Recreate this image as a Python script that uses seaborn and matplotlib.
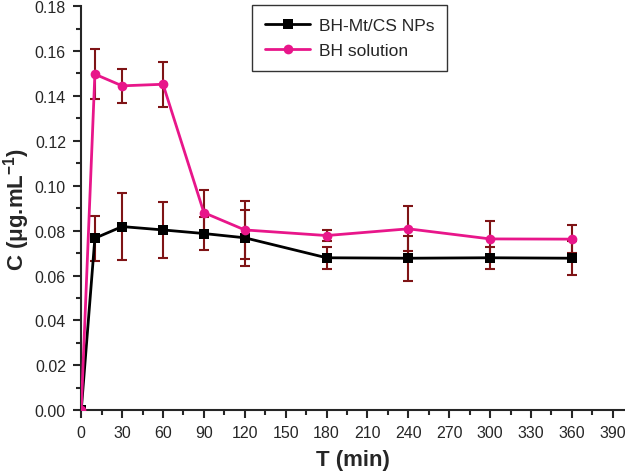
import numpy as np
import pandas as pd
import seaborn as sns
import matplotlib.pyplot as plt
from matplotlib.ticker import MultipleLocator

# values
time_min = [0, 10, 30, 60, 90, 120, 180, 240, 300, 360]
np_conc = [0.0, 0.0766, 0.0818, 0.0803, 0.0787, 0.0768, 0.0679, 0.0677, 0.0679, 0.0677]
np_err = [0.0, 0.0100, 0.0150, 0.0125, 0.0072, 0.0125, 0.0050, 0.0100, 0.0048, 0.0075]
sol_conc = [0.0, 0.1497, 0.1445, 0.1452, 0.0880, 0.0803, 0.0778, 0.0808, 0.0763, 0.0762]
sol_err = [0.0, 0.0112, 0.0076, 0.0101, 0.0103, 0.0128, 0.0026, 0.0100, 0.0080, 0.0062]
series_names = ['BH-Mt/CS NPs', 'BH solution']

sns.set_style('ticks')
plt.rcParams['font.family'] = ['Liberation Sans', 'DejaVu Sans']
plt.rcParams['mathtext.fontset'] = 'custom'
plt.rcParams['mathtext.rm'] = 'Liberation Sans:bold'
plt.rcParams['mathtext.it'] = 'Liberation Sans:bold'

df = pd.DataFrame({
    'T': time_min * 2,
    'C': np_conc + sol_conc,
    'err': np_err + sol_err,
    'series': [series_names[0]] * len(time_min) + [series_names[1]] * len(time_min),
})

fig = plt.figure(figsize=(6.25, 4.77), dpi=100)
ax = fig.add_axes([0.13, 0.138, 0.87, 0.847])

palette = {series_names[0]: '#000000', series_names[1]: '#e8168a'}
markers = {series_names[0]: 's', series_names[1]: 'o'}

# error bars (dark red) underneath the lines
for name in series_names:
    sub = df[(df['series'] == name) & (df['T'] > 0)]
    ax.errorbar(sub['T'], sub['C'], yerr=sub['err'], fmt='none',
                ecolor='#7f1416', elinewidth=1.5, capsize=3.8, capthick=1.5, zorder=2)

sns.lineplot(data=df, x='T', y='C', hue='series', style='series',
             palette=palette, markers=markers, dashes=False,
             markersize=7, markeredgewidth=0, linewidth=2.0,
             ax=ax, zorder=3, legend=True)

ax.set_xlim(0, 399)
ax.set_ylim(0, 0.18)
ax.xaxis.set_major_locator(MultipleLocator(30))
ax.xaxis.set_minor_locator(MultipleLocator(15))
ax.yaxis.set_major_locator(MultipleLocator(0.02))
ax.yaxis.set_minor_locator(MultipleLocator(0.01))
ax.yaxis.set_major_formatter(plt.FormatStrFormatter('%.2f'))

ax.tick_params(which='major', direction='out', length=6, width=1.5, labelsize=11.5, pad=5)
ax.tick_params(which='minor', direction='out', length=3.5, width=1.5)
for s in ['top', 'right']:
    ax.spines[s].set_visible(False)
for s in ['left', 'bottom']:
    ax.spines[s].set_linewidth(1.5)

ax.set_xlabel('T (min)', fontsize=16, fontweight='bold', labelpad=6)
ax.set_ylabel('C (μg.mL$^{-1}$)', fontsize=16, fontweight='bold', labelpad=2)

leg = ax.legend(loc='upper left', bbox_to_anchor=(0.314, 1.003), borderaxespad=0,
                fontsize=12.5, frameon=True, fancybox=False, edgecolor='black',
                handlelength=2.6, handletextpad=0.5, borderpad=0.75,
                labelspacing=0.55, title=None)
leg.get_frame().set_linewidth(1.0)

fig.savefig('out.png', dpi=100)
